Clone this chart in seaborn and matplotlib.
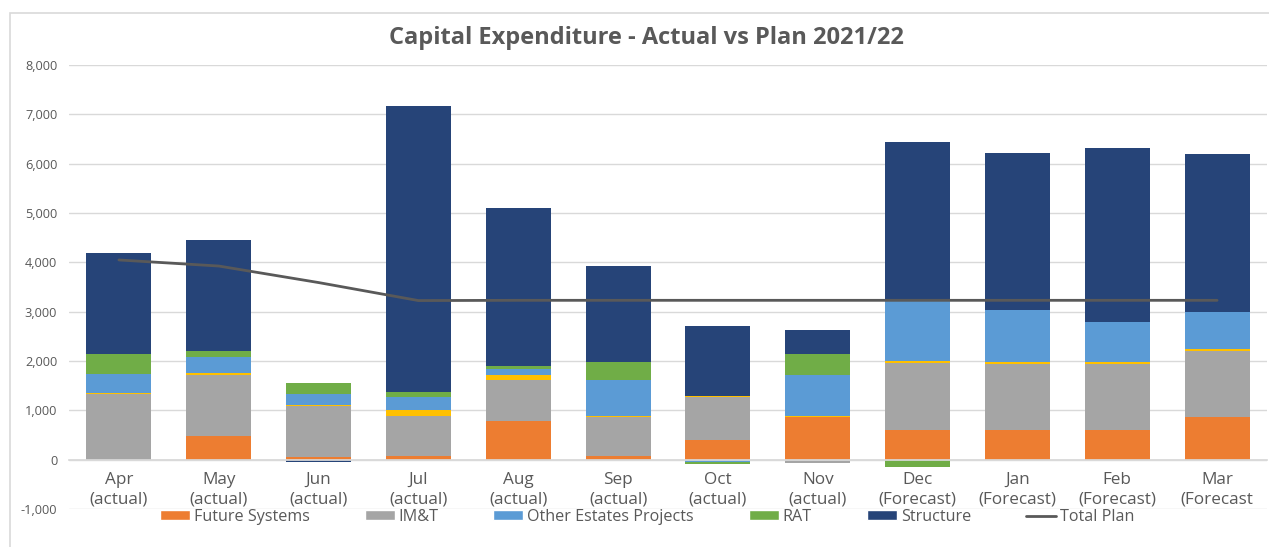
import numpy as np
import pandas as pd
import matplotlib
matplotlib.use("Agg")
import matplotlib.pyplot as plt
import seaborn as sns
from matplotlib.patches import Patch, Rectangle
from matplotlib.lines import Line2D

# ---------------- data ----------------
months = ["Apr\n(actual)", "May\n(actual)", "Jun\n(actual)", "Jul\n(actual)",
          "Aug\n(actual)", "Sep\n(actual)", "Oct\n(actual)", "Nov\n(actual)",
          "Dec\n(Forecast)", "Jan\n(Forecast)", "Feb\n(Forecast)", "Mar\n(Forecast"]
future_systems = [0, 483, 45, 75, 775, 65, 400, 860, 610, 605, 605, 865]
imt = [1340, 1230, 1040, 820, 835, 810, 870, -60, 1340, 1325, 1325, 1340]
other_unlabelled = [15, 35, 15, 120, 100, 20, 28, 35, 55, 40, 40, 40]
other_estates = [385, 340, 230, 250, 135, 715, -55, 815, 1205, 1070, 830, 750]
rat = [400, 115, 215, 100, 60, 360, -40, 430, -150, 0, 0, 0]
structure = [2050, 2250, -50, 5800, 3200, 1950, 1420, 490, 3220, 3175, 3515, 3200]
total_plan = [4048, 3925, 3590, 3225, 3230, 3230, 3230, 3230, 3230, 3230, 3230, 3230]

series_names = ["Future Systems", "IM&T", "_other", "Other Estates Projects", "RAT", "Structure"]
series_values = [future_systems, imt, other_unlabelled, other_estates, rat, structure]
series_colors = ["#ED7D31", "#A5A5A5", "#FFC000", "#5B9BD5", "#70AD47", "#264478"]

# ---------------- style ----------------
sns.set_theme(style="white")
plt.rcParams["font.family"] = ["Open Sans", "DejaVu Sans"]
txt_col = "#595959"

fig = plt.figure(figsize=(12.69, 5.47), dpi=100)
ax = fig.add_axes([69 / 1269, 1 - 509 / 547, (1267 - 69) / 1269, (509 - 65) / 547])

# chart border
fig.add_artist(Rectangle((10 / 1269, -0.01), 1.0, 1 - 13 / 547 + 0.01,
                         transform=fig.transFigure, fill=False,
                         edgecolor="#D9D9D9", linewidth=1.2))

# ---------------- stacked bars via seaborn (layered cumulative) ----------------
vals = np.array(series_values, dtype=float)
pos = np.where(vals > 0, vals, 0)
neg = np.where(vals < 0, vals, 0)
cum_pos = np.cumsum(pos, axis=0)
cum_neg = np.cumsum(neg, axis=0)

n = len(series_names)
for i in reversed(range(n)):
    df = pd.DataFrame({"month": months, "value": cum_pos[i]})
    sns.barplot(data=df, x="month", y="value", color=series_colors[i],
                saturation=1, width=0.65, errorbar=None, linewidth=0, ax=ax,
                order=months)
for i in reversed(range(n)):
    df = pd.DataFrame({"month": months, "value": cum_neg[i]})
    sns.barplot(data=df, x="month", y="value", color=series_colors[i],
                saturation=1, width=0.65, errorbar=None, linewidth=0, ax=ax,
                order=months)

# plan line
plan_df = pd.DataFrame({"x": np.arange(len(months)), "plan": total_plan})
sns.lineplot(data=plan_df, x="x", y="plan", color="#595959", linewidth=2.0, ax=ax, zorder=5)

# ---------------- axes ----------------
ax.set_xlim(-0.5, len(months) - 0.5)
ax.set_ylim(-1000, 8000)
ax.set_yticks(np.arange(-1000, 8001, 1000))
ax.set_yticklabels([f"{v:,}" for v in range(-1000, 8001, 1000)])
ax.yaxis.grid(True, color="#D9D9D9", linewidth=1.0)
ax.set_axisbelow(True)
for s in ["top", "right", "left"]:
    ax.spines[s].set_visible(False)
ax.spines["bottom"].set_position(("data", 0))
ax.spines["bottom"].set_color("#D9D9D9")
ax.set_xticks(np.arange(len(months)))
ax.set_xticklabels(months, fontsize=12.3, color=txt_col, linespacing=1.25)
ax.tick_params(axis="x", length=0, pad=9)
ax.tick_params(axis="y", length=0, pad=8.5, labelsize=9.2, labelcolor=txt_col)
ax.set_xlabel("")
ax.set_ylabel("")

fig.text(646 / 1269, 1 - 38 / 547, "Capital Expenditure - Actual vs Plan 2021/22",
         ha="center", va="center", fontsize=17, fontweight="bold", color=txt_col)

handles = [Patch(facecolor=series_colors[i], label=series_names[i])
           for i in range(n) if not series_names[i].startswith("_")]
handles.append(Line2D([0], [0], color="#595959", linewidth=2.0, label="Total Plan"))
leg = fig.legend(handles=handles, loc="center", bbox_to_anchor=(647 / 1269, 1 - 517 / 547),
                 ncol=6, frameon=False, fontsize=11.6, handlelength=1.86, handleheight=0.56,
                 handletextpad=0.25, columnspacing=3.4, borderaxespad=0, borderpad=0)
for t in leg.get_texts():
    t.set_color(txt_col)

fig.savefig("out.png", dpi=100)
